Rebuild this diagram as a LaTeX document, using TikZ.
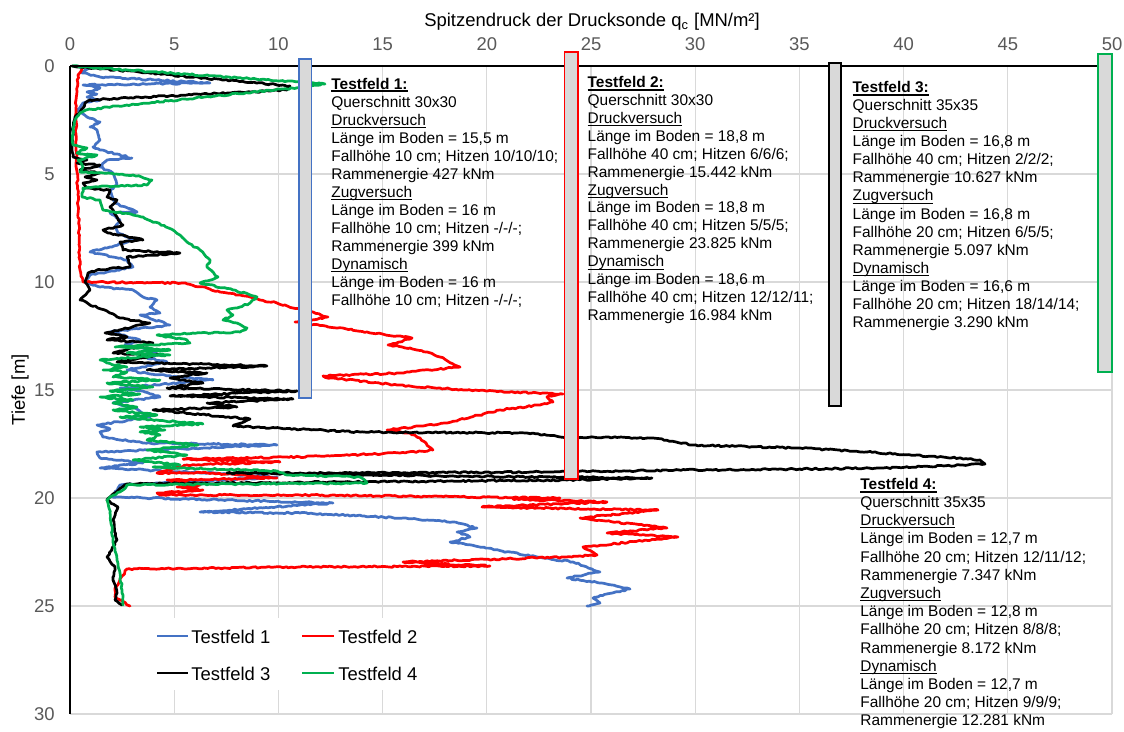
\documentclass[tikz,border=0pt]{standalone}
\usepackage{fontspec}
\setmainfont{Liberation Sans}
\usetikzlibrary{decorations.pathmorphing}
\definecolor{tfblue}{HTML}{4472C4}
\definecolor{tfred}{HTML}{FF0000}
\definecolor{tfgreen}{HTML}{00B050}
\definecolor{gridc}{HTML}{D9D9D9}
\definecolor{tickc}{HTML}{595959}
\definecolor{barfill}{HTML}{D9D9D9}
\newcommand{\ulthin}[1]{\setbox0\hbox{#1}\rlap{\vrule height -1.0pt depth 1.55pt width \wd0}\box0}
\newcommand{\ulbold}[1]{\setbox0\hbox{#1}\rlap{\vrule height -0.8pt depth 1.9pt width \wd0}\box0}
\begin{document}
\begin{tikzpicture}[x=0.02cm,y=-0.02cm,
  curve/.style={line width=1.55pt,line join=round,line cap=round},
  rough/.style={decorate,decoration={random steps,segment length=1.6pt,amplitude=0.45pt}},
  gridl/.style={draw=gridc,line width=0.6pt},
  ticklab/.style={text=tickc,font=\fontsize{10.5}{12}\selectfont,inner sep=0pt},
  infotext/.style={font=\fontsize{8.8}{10.2}\selectfont,inner sep=0pt,anchor=base west},
  pilebar/.style={fill=barfill,line width=1.1pt},
  legtext/.style={font=\fontsize{10.5}{12}\selectfont,anchor=base west,inner sep=0pt}
]
\pgfmathsetseed{7}
\useasboundingbox (0,0) rectangle (1124,731);
\fill[white] (0,0) rectangle (1124,731);
% grid
\foreach \k in {1,...,10} \draw[gridl] ({70+104.2*\k},66) -- ({70+104.2*\k},714);
\foreach \k in {1,...,6} \draw[gridl] (70,{66+108*\k}) -- (1112,{66+108*\k});
% tick labels
\foreach \v [count=\k from 0] in {0,5,...,50} \node[ticklab,anchor=base] (xt\k) at ({70+104.2*\k},50) {\v};
\foreach \v [count=\k from 0] in {0,5,...,30} \node[ticklab,anchor=east] (yt\k) at (55,{66+108*\k}) {\v};
\node[font=\fontsize{10.5}{12}\selectfont,anchor=base,inner sep=0pt] (xtitle) at (592,26.5) {Spitzendruck der Drucksonde q\textsubscript{c} [MN/m²]};
\node[font=\fontsize{10.5}{12}\selectfont,rotate=90,inner sep=0pt] (ytitle) at (20,390) {Tiefe [m]};
% curves
\draw[curve,rough,tfblue] plot coordinates {(90,67) (82,73) (100,77) (210,83) (83,85) (100,88) (87,92) (97,94) (87,97) (100,100) (83,103) (77,110) (87,117) (100,122) (90,127) (97,130) (100,140) (93,147) (100,150) (132,158) (107,160) (100,167) (113,173) (117,185) (110,190) (115,203) (137,212) (110,213) (120,220) (115,227) (118,233) (133,240) (110,247) (90,252) (113,257) (127,260) (133,267) (117,270) (90,275) (85,282) (100,287) (133,290) (143,297) (157,300) (150,307) (160,313) (140,315) (170,325) (110,332) (140,340) (125,345) (160,350) (140,356) (167,362) (127,370) (150,374) (213,380) (120,388) (145,392) (160,397) (113,403) (135,408) (150,417) (97,425) (110,429) (100,432) (103,437) (143,443) (277,445) (97,452) (100,458) (143,463) (100,468) (213,473) (277,477) (120,485) (112,497) (333,503) (200,512) (300,513) (383,517) (453,522) (477,528) (457,532) (470,537) (450,542) (537,557) (573,562) (600,572) (567,578) (600,583) (630,589) (593,598) (600,603) (587,606)};
\draw[curve,rough,tfred] plot coordinates {(83,67) (78,75) (76,100) (76,150) (77,172) (79,230) (80,270) (83,282) (182,283) (207,288) (220,292) (240,295) (260,300) (277,303) (293,308) (313,312) (328,317) (295,322) (367,332) (412,338) (388,345) (410,348) (427,352) (440,357) (460,367) (400,373) (323,376) (330,378) (397,385) (467,390) (563,394) (547,397) (553,402) (540,405) (500,410) (447,423) (387,430) (410,433) (420,438) (433,450) (400,453) (300,457) (183,459) (280,462) (187,465) (157,473) (213,473) (277,478) (167,480) (200,485) (177,487) (203,490) (157,493) (160,495) (300,495) (560,498) (513,499) (607,502) (482,507) (658,510) (580,518) (667,528) (607,533) (678,537) (583,547) (597,555) (567,557) (403,562) (490,566) (300,567) (127,569) (120,580) (115,588) (115,597) (130,606)};
\draw[curve,rough,black] plot coordinates {(72,66) (290,86) (287,90) (187,95) (90,100) (85,103) (83,108) (75,117) (73,127) (72,147) (73,157) (87,160) (77,163) (100,165) (80,170) (100,173) (85,177) (97,180) (83,183) (87,188) (110,190) (107,197) (117,200) (110,207) (117,217) (123,225) (103,230) (110,233) (143,240) (120,242) (123,250) (180,253) (127,257) (130,267) (97,270) (88,273) (85,282) (90,290) (80,300) (110,313) (120,318) (150,323) (105,333) (127,337) (107,340) (153,343) (113,353) (160,355) (117,362) (267,366) (147,370) (207,373) (170,378) (203,383) (167,388) (297,391) (170,396) (293,399) (207,403) (237,407) (153,410) (250,419) (233,426) (360,432) (527,433) (567,437) (653,438) (693,445) (800,448) (867,452) (943,457) (980,460) (985,464) (963,465) (883,468) (800,469) (697,470) (550,472) (340,473) (227,473) (360,475) (652,478) (567,480) (340,482) (127,484) (110,497) (107,500) (118,507) (113,520) (117,540) (107,557) (115,567) (113,580) (117,593) (115,600) (122,605)};
\draw[curve,rough,tfgreen] plot coordinates {(72,66) (325,84) (300,88) (283,89) (118,106) (86,110) (80,113) (75,120) (73,133) (73,145) (87,148) (77,153) (97,155) (78,160) (83,167) (80,172) (133,175) (152,180) (147,185) (107,186) (83,188) (82,197) (100,200) (103,210) (133,215) (143,217) (173,230) (187,242) (200,250) (210,260) (207,267) (218,277) (200,283) (233,290) (257,297) (250,303) (240,307) (227,310) (233,315) (223,320) (237,323) (247,328) (240,332) (193,333) (157,335) (187,340) (190,343) (147,345) (115,347) (170,350) (127,353) (170,355) (100,360) (107,363) (127,367) (103,370) (127,372) (113,377) (160,380) (107,383) (153,387) (110,391) (140,394) (100,397) (133,400) (113,403) (137,407) (113,410) (157,415) (120,417) (203,424) (140,427) (165,430) (140,432) (160,435) (147,440) (198,445) (147,450) (187,455) (133,460) (180,465) (153,467) (277,471) (287,475) (360,477) (367,483) (127,485) (123,490) (110,497) (107,500) (110,513) (113,540) (117,560) (120,573) (122,590) (123,605)};
% axes
\draw[line width=1.2pt] (70,66) -- (1112,66);
\draw[line width=1.2pt] (70,66) -- (70,714);
% piles
\draw[pilebar,draw=tfblue] (299,59) rectangle (311.5,398);
\draw[pilebar,draw=tfred] (564.5,51.7) rectangle (577.8,479);
\draw[pilebar,draw=black] (828.7,63) rectangle (841.3,406);
\draw[pilebar,draw=tfgreen] (1098,53.7) rectangle (1112,372);
% legend
\fill[white] (148,618) rectangle (460,690);
\node[legtext] (lg1) at (191,643.5) {Testfeld 1};
\node[legtext] (lg2) at (338,643.5) {Testfeld 2};
\node[legtext] (lg3) at (191,680.5) {Testfeld 3};
\node[legtext] (lg4) at (338,680.5) {Testfeld 4};
\draw[curve,tfblue,line cap=butt] (157,636) -- (188,636);
\draw[curve,tfred,line cap=butt] (302,636) -- (334,636);
\draw[curve,black,line cap=butt] (157,673) -- (188,673);
\draw[curve,tfgreen,line cap=butt] (302,673) -- (334,673);
% info texts
\foreach \t [count=\i from 0] in {{\textbf{\ulbold{Testfeld 1:}}},{Querschnitt 30x30},{\ulthin{Druckversuch}},{Länge im Boden = 15,5 m},{Fallhöhe 10 cm; Hitzen 10/10/10;},{Rammenergie 427 kNm},{\ulthin{Zugversuch}},{Länge im Boden = 16 m},{Fallhöhe 10 cm; Hitzen -/-/-;},{Rammenergie 399 kNm},{\ulthin{Dynamisch}},{Länge im Boden = 16 m},{Fallhöhe 10 cm; Hitzen -/-/-;}}
  \node[infotext] (tfa\i) at (331,{89+18.05*\i}) {\t};
\foreach \t [count=\i from 0] in {{\textbf{\ulbold{Testfeld 2:}}},{Querschnitt 30x30},{\ulthin{Druckversuch}},{Länge im Boden = 18,8 m},{Fallhöhe 40 cm; Hitzen 6/6/6;},{Rammenergie 15.442 kNm},{\ulthin{Zugversuch}},{Länge im Boden = 18,8 m},{Fallhöhe 40 cm; Hitzen 5/5/5;},{Rammenergie 23.825 kNm},{\ulthin{Dynamisch}},{Länge im Boden = 18,6 m},{Fallhöhe 40 cm; Hitzen 12/12/11;},{Rammenergie 16.984 kNm}}
  \node[infotext] (tfb\i) at (587.3,{87.3+17.95*\i}) {\t};
\foreach \t [count=\i from 0] in {{\textbf{\ulbold{Testfeld 3:}}},{Querschnitt 35x35},{\ulthin{Druckversuch}},{Länge im Boden = 16,8 m},{Fallhöhe 40 cm; Hitzen 2/2/2;},{Rammenergie 10.627 kNm},{\ulthin{Zugversuch}},{Länge im Boden = 16,8 m},{Fallhöhe 20 cm; Hitzen 6/5/5;},{Rammenergie 5.097 kNm},{\ulthin{Dynamisch}},{Länge im Boden = 16,6 m},{Fallhöhe 20 cm; Hitzen 18/14/14;},{Rammenergie 3.290 kNm}}
  \node[infotext] (tfc\i) at (852.3,{92.3+18.1*\i}) {\t};
\foreach \t [count=\i from 0] in {{\textbf{\ulbold{Testfeld 4:}}},{Querschnitt 35x35},{\ulthin{Druckversuch}},{Länge im Boden = 12,7 m},{Fallhöhe 20 cm; Hitzen 12/11/12;},{Rammenergie 7.347 kNm},{\ulthin{Zugversuch}},{Länge im Boden = 12,8 m},{Fallhöhe 20 cm; Hitzen 8/8/8;},{Rammenergie 8.172 kNm},{\ulthin{Dynamisch}},{Länge im Boden = 12,7 m},{Fallhöhe 20 cm; Hitzen 9/9/9;},{Rammenergie 12.281 kNm}}
  \node[infotext] (tfd\i) at (860,{489.3+18.2*\i}) {\t};
\end{tikzpicture}
\end{document}
